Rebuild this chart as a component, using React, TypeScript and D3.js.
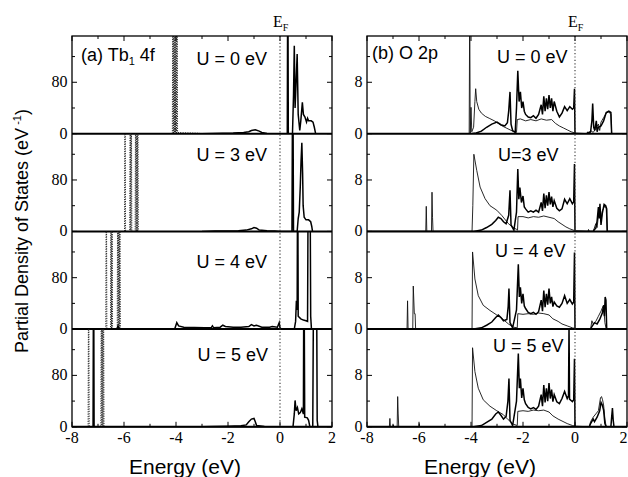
import React from "react";
import * as d3 from "d3";

type Pt = [number, number];

// axis values
const energyTicks = [-8, -6, -4, -2, 0, 2];
const energyMinor = [-7, -5, -3, -1, 1];
const tbTicks = [0, 80];
const tbMinor = [40, 120];
const oTicks = [0, 8];
const oMinor = [4, 12];
const tbLabelsU = ["U = 0 eV", "U = 3 eV", "U = 4 eV", "U = 5 eV"];
const oLabelsU = ["U = 0 eV", "U=3 eV", "U = 4 eV", "U = 5 eV"];

// Tb1 4f, majority (dotted) and minority (solid) states
const tbUp0: Pt[] = [[-4.14,0],[-4.12,300],[-4.1,0],[-4.08,300],[-4.06,0],[-4.04,300],[-4.02,0],[-4.0,300],[-3.98,0],[-3.96,300],[-3.94,2],[-3.8,1.5],[-3.6,1.2],[-3.4,1],[-3.2,0.8],[-3.1,0.5],[-3.0,0]];
const tbUp3: Pt[] = [[-5.98,0],[-5.96,300],[-5.94,0],[-5.78,0],[-5.76,300],[-5.74,0],[-5.72,300],[-5.7,0],[-5.57,0],[-5.55,300],[-5.53,0],[-5.51,300],[-5.49,0],[-5.47,300],[-5.45,0]];
const tbUp4: Pt[] = [[-6.7,0],[-6.68,300],[-6.66,0],[-6.52,0],[-6.5,300],[-6.48,0],[-6.46,300],[-6.44,0],[-6.26,0],[-6.24,300],[-6.22,0],[-6.2,300],[-6.18,0],[-6.16,300],[-6.14,0]];
const tbUp5: Pt[] = [[-7.38,0],[-7.36,300],[-7.34,0],[-6.89,0],[-6.87,300],[-6.85,0],[-6.83,300],[-6.81,0],[-6.79,300],[-6.77,0]];

const tbDn0: Pt[] = [[-3,0],[-2.6,0.5],[-2.2,0.8],[-1.8,1.2],[-1.4,2],[-1.2,3],[-1.1,5],[-0.95,6],[-0.8,4],[-0.7,2],[-0.5,0.5],[0.2,0],[0.28,0],[0.3,300],[0.32,0],[0.48,0],[0.52,60],[0.55,137],[0.58,40],[0.62,80],[0.66,124],[0.7,30],[0.76,5],[0.8,20],[0.86,49],[0.9,30],[0.96,26],[1.02,18],[1.06,24],[1.1,20],[1.2,20],[1.27,18],[1.32,10],[1.37,0]];
const tbDn3: Pt[] = [[-3,0],[-2.5,0.5],[-2,0.8],[-1.6,1.2],[-1.3,2],[-1.1,4],[-1.0,6],[-0.9,5],[-0.8,2],[-0.5,1],[-0.2,0.5],[0,0],[0.46,0],[0.49,300],[0.52,0],[0.66,0],[0.7,20],[0.74,30],[0.78,70],[0.81,110],[0.84,138],[0.87,90],[0.89,40],[0.93,22],[1.0,18],[1.1,18],[1.18,15],[1.22,8],[1.25,0]];
const tbDn4: Pt[] = [[-6.27,0],[-6.23,5],[-6.19,0],[-4.05,0],[-3.97,10],[-3.9,5],[-3.7,3],[-3.3,2.5],[-2.9,2],[-2.65,2],[-2.6,5],[-2.55,2],[-2.3,3],[-2.2,6],[-2.1,4],[-1.8,3],[-1.5,3],[-1.2,4],[-1.1,7],[-1.0,5],[-0.9,6],[-0.7,3],[-0.4,3],[-0.3,4],[-0.1,3],[-0.03,10],[0,2],[0.05,0],[0.55,0],[0.6,12],[0.63,44],[0.66,30],[0.68,300],[0.7,20],[0.8,16],[0.9,14],[1.0,13],[1.06,12],[1.09,300],[1.12,300],[1.15,300],[1.18,20],[1.21,0]];
const tbDn5: Pt[] = [[-7.19,0],[-7.17,300],[-7.15,0],[-3,0],[-2.6,0.5],[-2,1],[-1.5,1.5],[-1.3,3],[-1.2,8],[-1.1,12],[-1.0,13],[-0.95,8],[-0.9,2],[-0.6,0.5],[0,0],[0.5,0],[0.55,20],[0.58,41],[0.62,25],[0.67,30],[0.72,20],[0.78,22],[0.84,28],[0.9,20],[0.92,300],[0.95,15],[1.05,14],[1.1,10],[1.15,0],[1.26,0],[1.3,300],[1.35,300],[1.4,300],[1.43,10],[1.46,0]];

// O 2p, thin and bold curves
const oA0: Pt[] = [[-8,0],[-4.07,0],[-4.05,20],[-4.03,0],[-4.0,4.1],[-3.97,0.3],[-3.9,1],[-3.85,5],[-3.82,7.0],[-3.78,5],[-3.7,3.8],[-3.6,3.2],[-3.45,2.7],[-3.3,2.4],[-3.1,2.0],[-2.95,1.6],[-2.8,1.2],[-2.65,0.9],[-2.5,0.6],[-2.35,0.3],[-2.25,0.2],[-2.22,2.2],[-2.1,2.3],[-1.9,2.0],[-1.7,2.2],[-1.5,2.0],[-1.3,2.3],[-1.1,2.1],[-0.9,2.2],[-0.75,1.6],[-0.6,1.2],[-0.45,0.9],[-0.3,0.6],[-0.15,0.3],[0,0.1],[0.5,0],[0.6,0.5],[0.7,0.2],[0.8,0.8],[0.9,1.5],[0.95,0.5],[1.0,1.8],[1.1,2.5],[1.2,3.2],[1.3,3.4],[1.38,3.0],[1.41,0],[2,0]];
const oB0: Pt[] = [[-8,0],[-4.0,0],[-3.8,0.1],[-3.6,0.4],[-3.4,1.0],[-3.2,1.5],[-3.0,1.8],[-2.85,1.4],[-2.7,1.2],[-2.6,1.7],[-2.55,3.5],[-2.5,6.5],[-2.46,1.5],[-2.4,0.5],[-2.3,0.2],[-2.25,4],[-2.2,9.8],[-2.15,5],[-2.1,6.5],[-2.05,4],[-2.0,5],[-1.95,3.5],[-1.9,3.0],[-1.8,2.6],[-1.7,2.5],[-1.6,2.8],[-1.5,2.4],[-1.4,3.0],[-1.3,4.5],[-1.25,3],[-1.2,5.8],[-1.15,3.5],[-1.1,5.5],[-1.05,3.8],[-1.0,6],[-0.95,4],[-0.9,5.5],[-0.85,3.5],[-0.8,5],[-0.7,3.5],[-0.6,2.6],[-0.5,3.2],[-0.4,4.2],[-0.3,3.6],[-0.2,4.2],[-0.1,3.8],[-0.05,4.0],[-0.02,7.0],[0,0],[0.45,0],[0.5,0.2],[0.55,0],[0.6,0.3],[0.65,2],[0.68,4.7],[0.72,1],[0.76,0.5],[0.82,2],[0.85,0.3],[0.9,1.0],[1.0,1.2],[1.1,2.0],[1.2,3.3],[1.3,3.5],[1.38,3.3],[1.41,0],[2,0]];
const oA3: Pt[] = [[-8,0],[-5.74,0],[-5.72,3.9],[-5.7,0],[-5.52,0],[-5.5,6.1],[-5.48,2.2],[-5.46,0],[-3.96,0],[-3.93,4],[-3.89,12.0],[-3.78,9.5],[-3.65,6.9],[-3.46,5.1],[-3.27,4.0],[-3.01,3.3],[-2.82,2.5],[-2.56,1.2],[-2.38,0.6],[-2.24,0.3],[-2.21,0.2],[-2.19,2.3],[-2.0,2.3],[-1.8,2.1],[-1.6,2.3],[-1.4,2.2],[-1.2,2.4],[-1.0,2.2],[-0.8,2.0],[-0.65,1.5],[-0.5,1.1],[-0.35,0.7],[-0.2,0.4],[0,0.1],[0.5,0],[0.52,0.3],[0.55,0],[0.7,0],[0.8,1.2],[0.85,0.6],[0.9,2.4],[0.95,3.5],[1.0,1.5],[1.05,3.2],[1.15,4.0],[1.2,3.6],[1.24,0],[2,0]];
const oB3: Pt[] = [[-8,0],[-3.9,0],[-3.6,0.2],[-3.4,0.6],[-3.2,1.1],[-3.05,1.7],[-2.95,2.2],[-2.85,2.0],[-2.75,1.5],[-2.65,1.2],[-2.55,2.5],[-2.5,6.4],[-2.46,1.0],[-2.35,0.2],[-2.25,3],[-2.2,9.7],[-2.16,5],[-2.12,6.8],[-2.06,4.5],[-2.0,5.5],[-1.95,3.8],[-1.9,3.5],[-1.8,3.0],[-1.7,3.2],[-1.6,3.0],[-1.5,3.3],[-1.4,3.0],[-1.3,4.5],[-1.25,3.2],[-1.2,5.9],[-1.15,3.6],[-1.1,5.6],[-1.05,4.0],[-1.0,6.1],[-0.95,4.2],[-0.9,5.4],[-0.85,3.8],[-0.8,4.8],[-0.7,3.6],[-0.6,3.2],[-0.5,3.5],[-0.4,5.0],[-0.3,4.3],[-0.2,5.1],[-0.1,4.3],[-0.05,4.6],[-0.02,10.5],[0,0],[0.7,0],[0.75,0.3],[0.8,0.5],[0.85,1.6],[0.9,3.8],[0.93,2.0],[0.96,4.3],[1.0,1.0],[1.05,2.8],[1.12,4.2],[1.18,4.0],[1.22,3.5],[1.24,0],[2,0]];
const oA4: Pt[] = [[-8,0],[-6.46,0],[-6.44,4.4],[-6.42,0],[-6.24,0],[-6.22,6.7],[-6.18,2.4],[-6.15,2.4],[-6.13,0],[-3.96,0],[-3.94,12.0],[-3.85,7.8],[-3.72,5.2],[-3.53,3.7],[-3.27,2.9],[-3.01,2.2],[-2.82,1.7],[-2.56,0.8],[-2.37,0.3],[-2.22,0.2],[-2.2,2.4],[-2.0,2.3],[-1.8,2.4],[-1.6,2.3],[-1.4,2.5],[-1.2,2.4],[-1.0,2.2],[-0.85,1.6],[-0.65,1.2],[-0.5,0.8],[-0.3,0.5],[-0.1,0.2],[0,0.1],[0.6,0],[0.65,1.3],[0.7,0.8],[0.8,1.2],[0.9,2.0],[1.0,2.8],[1.05,3.3],[1.1,3.7],[1.15,1.0],[1.2,0],[2,0]];
const oB4: Pt[] = [[-8,0],[-3.9,0],[-3.6,0.2],[-3.4,0.6],[-3.2,1.1],[-3.05,1.8],[-2.95,2.2],[-2.85,1.8],[-2.75,1.3],[-2.62,1.5],[-2.57,3.5],[-2.54,6.3],[-2.5,1.0],[-2.4,0.2],[-2.25,3],[-2.18,10.1],[-2.14,5],[-2.1,6.5],[-2.05,4.0],[-2.0,5.5],[-1.95,3.6],[-1.9,3.2],[-1.8,2.6],[-1.7,2.4],[-1.6,2.6],[-1.5,2.3],[-1.4,2.7],[-1.3,4.5],[-1.25,2.8],[-1.2,6.0],[-1.15,3.4],[-1.1,5.5],[-1.05,3.8],[-1.0,6.3],[-0.95,4.0],[-0.9,5.0],[-0.85,3.5],[-0.8,4.2],[-0.7,3.6],[-0.6,3.4],[-0.5,4.0],[-0.4,5.2],[-0.3,4.0],[-0.2,4.6],[-0.1,3.9],[-0.05,4.2],[-0.02,11.9],[0,0],[0.6,0],[0.65,0.4],[0.75,1.0],[0.85,0.8],[0.95,1.5],[1.05,2.5],[1.1,3.7],[1.13,2.0],[1.16,5.0],[1.19,4.5],[1.22,0],[2,0]];
const oA5: Pt[] = [[-8,0],[-7.14,0],[-7.12,1.3],[-7.1,0],[-7.0,0],[-6.99,0.3],[-6.98,0],[-6.84,0],[-6.82,4.7],[-6.8,2],[-6.78,0],[-6.0,0],[-5.99,0.5],[-5.98,0],[-3.96,0],[-3.94,12.3],[-3.85,8.6],[-3.72,6.0],[-3.53,4.2],[-3.27,3.2],[-3.01,2.5],[-2.76,1.9],[-2.57,1.1],[-2.37,0.4],[-2.22,0.2],[-2.2,2.4],[-2.0,2.5],[-1.8,2.4],[-1.6,2.6],[-1.4,2.5],[-1.2,2.6],[-1.0,2.3],[-0.85,1.7],[-0.65,1.2],[-0.5,0.9],[-0.3,0.5],[-0.1,0.2],[0,0.1],[0.55,0],[0.6,0.8],[0.7,1.5],[0.8,2.0],[0.9,2.5],[0.98,4.5],[1.02,4.7],[1.06,4.2],[1.1,3.4],[1.15,1.2],[1.2,0],[2,0]];
const oB5: Pt[] = [[-8,0],[-3.9,0],[-3.6,0.2],[-3.4,0.7],[-3.2,1.2],[-3.05,2.0],[-2.95,2.3],[-2.85,1.8],[-2.75,1.2],[-2.65,1.6],[-2.58,4],[-2.54,7.5],[-2.5,1.0],[-2.4,0.2],[-2.25,4],[-2.18,11.4],[-2.14,6],[-2.1,7.5],[-2.05,4.5],[-2.0,6.0],[-1.95,4.2],[-1.9,3.6],[-1.8,3.0],[-1.7,2.8],[-1.6,3.0],[-1.5,2.7],[-1.4,3.2],[-1.3,5.0],[-1.25,3.2],[-1.2,6.5],[-1.15,3.8],[-1.1,6.0],[-1.05,4.0],[-1.0,6.8],[-0.95,4.4],[-0.9,5.8],[-0.85,3.9],[-0.8,5.0],[-0.7,3.9],[-0.6,3.6],[-0.5,4.4],[-0.4,5.5],[-0.3,4.4],[-0.25,4.8],[-0.23,16],[-0.21,4.3],[-0.1,3.9],[-0.05,4.2],[-0.02,10.6],[0,0],[0.55,0],[0.6,0.5],[0.7,1.2],[0.75,0.8],[0.85,1.5],[0.95,2.5],[1.0,3.8],[1.05,3.4],[1.1,2.6],[1.15,0.5],[1.2,0],[1.38,0],[1.41,1.5],[1.44,2.9],[1.47,1.0],[1.5,0],[2,0]];

const W = 628;
const H = 477;
const top = 36;
const panelH = 97.7;
const sans = "'Liberation Sans', Arial, sans-serif";
const serif = "'Liberation Serif', 'Times New Roman', serif";

type Series = { data: Pt[]; kind: "dot" | "thin" | "bold" };

const styles = {
  dot: { stroke: "#222", strokeWidth: 1, strokeDasharray: "1.2,1.2" },
  thin: { stroke: "#111", strokeWidth: 0.9 },
  bold: { stroke: "#000", strokeWidth: 1.5 },
};

function Column({ id, x0, x1, yMax, ticks, minor, panels, uLabels, uPos }: any) {
  const x = d3.scaleLinear().domain([-8, 2]).range([x0, x1]);
  const y = d3.scaleLinear().domain([0, yMax]).range([panelH, 0]);
  const line = d3.line<Pt>().x((d) => x(d[0])).y((d) => y(d[1]));
  const bottom = top + 4 * panelH;
  const ef = x(0);

  return (
    <g>
      <defs>
        <clipPath id={`clip-${id}`}>
          <rect x={x0} y={0} width={x1 - x0} height={panelH} />
        </clipPath>
      </defs>
      {panels.map((series: Series[], i: number) => (
        <g key={i} transform={`translate(0,${top + i * panelH})`}>
          <g clipPath={`url(#clip-${id})`}>
            {series.map((s, j) => (
              <path key={j} d={line(s.data) || undefined} fill="none" {...styles[s.kind]} />
            ))}
          </g>
          {ticks.map((t: number) => (
            <g key={`t${t}`}>
              <line x1={x0} x2={x0 + 5} y1={y(t)} y2={y(t)} stroke="#000" strokeWidth={1} />
              <line x1={x1} x2={x1 - 5} y1={y(t)} y2={y(t)} stroke="#000" strokeWidth={1} />
              <text x={x0 - 4.5} y={y(t) + 5} textAnchor="end" fontFamily={serif} fontSize={16}>
                {t}
              </text>
            </g>
          ))}
          {minor.map((t: number) => (
            <g key={`m${t}`}>
              <line x1={x0} x2={x0 + 3} y1={y(t)} y2={y(t)} stroke="#000" strokeWidth={1} />
              <line x1={x1} x2={x1 - 3} y1={y(t)} y2={y(t)} stroke="#000" strokeWidth={1} />
            </g>
          ))}
          <line x1={x0} x2={x1} y1={panelH} y2={panelH} stroke="#000" strokeWidth={2} />
          <text
            x={uPos[i][0]}
            y={uPos[i][1] - (top + i * panelH)}
            textAnchor={uPos[i][2]}
            fontFamily={sans}
            fontSize={18}
          >
            {uLabels[i]}
          </text>
        </g>
      ))}
      <line x1={ef} x2={ef} y1={top} y2={bottom} stroke="#333" strokeWidth={1.1} strokeDasharray="1.2,2.2" />
      <rect x={x0} y={top} width={x1 - x0} height={bottom - top} fill="none" stroke="#000" strokeWidth={1.3} />
      {energyTicks.map((t) => {
        const edge = x(t) + 5 > W;
        return (
          <g key={`x${t}`}>
            <line x1={x(t)} x2={x(t)} y1={bottom} y2={bottom - 5} stroke="#000" strokeWidth={1} />
            <line x1={x(t)} x2={x(t)} y1={top} y2={top + 5} stroke="#000" strokeWidth={1} />
            <text
              x={edge ? W - 0.5 : x(t)}
              y={443}
              textAnchor={edge ? "end" : "middle"}
              fontFamily={serif}
              fontSize={16}
            >
              {t}
            </text>
          </g>
        );
      })}
      {energyMinor.map((t) => (
        <g key={`xm${t}`}>
          <line x1={x(t)} x2={x(t)} y1={bottom} y2={bottom - 3} stroke="#000" strokeWidth={1} />
          <line x1={x(t)} x2={x(t)} y1={top} y2={top + 3} stroke="#000" strokeWidth={1} />
        </g>
      ))}
      <text x={ef - 7} y={27} fontFamily={serif} fontSize={16}>
        E<tspan fontSize={10} dy={4}>F</tspan>
      </text>
      <text x={(x0 + x1) / 2 - 17} y={474} textAnchor="middle" fontFamily={sans} fontSize={21}>
        Energy (eV)
      </text>
    </g>
  );
}

export default function App() {
  const tbPanels: Series[][] = [
    [{ data: tbUp0, kind: "dot" }, { data: tbDn0, kind: "bold" }],
    [{ data: tbUp3, kind: "dot" }, { data: tbDn3, kind: "bold" }],
    [{ data: tbUp4, kind: "dot" }, { data: tbDn4, kind: "bold" }],
    [{ data: tbUp5, kind: "dot" }, { data: tbDn5, kind: "bold" }],
  ];
  const oPanels: Series[][] = [
    [{ data: oA0, kind: "thin" }, { data: oB0, kind: "bold" }],
    [{ data: oA3, kind: "thin" }, { data: oB3, kind: "bold" }],
    [{ data: oA4, kind: "thin" }, { data: oB4, kind: "bold" }],
    [{ data: oA5, kind: "thin" }, { data: oB5, kind: "bold" }],
  ];

  return (
    <svg
      width={W}
      height={H}
      viewBox={`0 0 ${W} ${H}`}
      style={{ position: "absolute", left: 0, top: 0, background: "#fff" }}
    >
      <rect width={W} height={H} fill="#fff" />
      <Column
        id="tb"
        x0={72}
        x1={332}
        yMax={152}
        ticks={tbTicks}
        minor={tbMinor}
        panels={tbPanels}
        uLabels={tbLabelsU}
        uPos={[[267, 65, "end"], [267, 161.5, "end"], [267, 268, "end"], [268, 361.5, "end"]]}
      />
      <Column
        id="o"
        x0={367}
        x1={627}
        yMax={15.2}
        ticks={oTicks}
        minor={oMinor}
        panels={oPanels}
        uLabels={oLabelsU}
        uPos={[[497, 63, "start"], [498, 161, "start"], [495, 257, "start"], [493, 352, "start"]]}
      />
      <text x={81} y={61} fontFamily={sans} fontSize={18}>
        (a) Tb<tspan fontSize={11} dy={4}>1</tspan>
        <tspan dy={-4}> 4f</tspan>
      </text>
      <text x={372} y={59} fontFamily={sans} fontSize={18}>
        (b) O 2p
      </text>
      <text transform="translate(28,231) rotate(-90)" textAnchor="middle" fontFamily={sans} fontSize={18}>
        Partial Density of States (eV<tspan fontSize={11} dy={-7}> -1</tspan>
        <tspan dy={7}>)</tspan>
      </text>
    </svg>
  );
}
